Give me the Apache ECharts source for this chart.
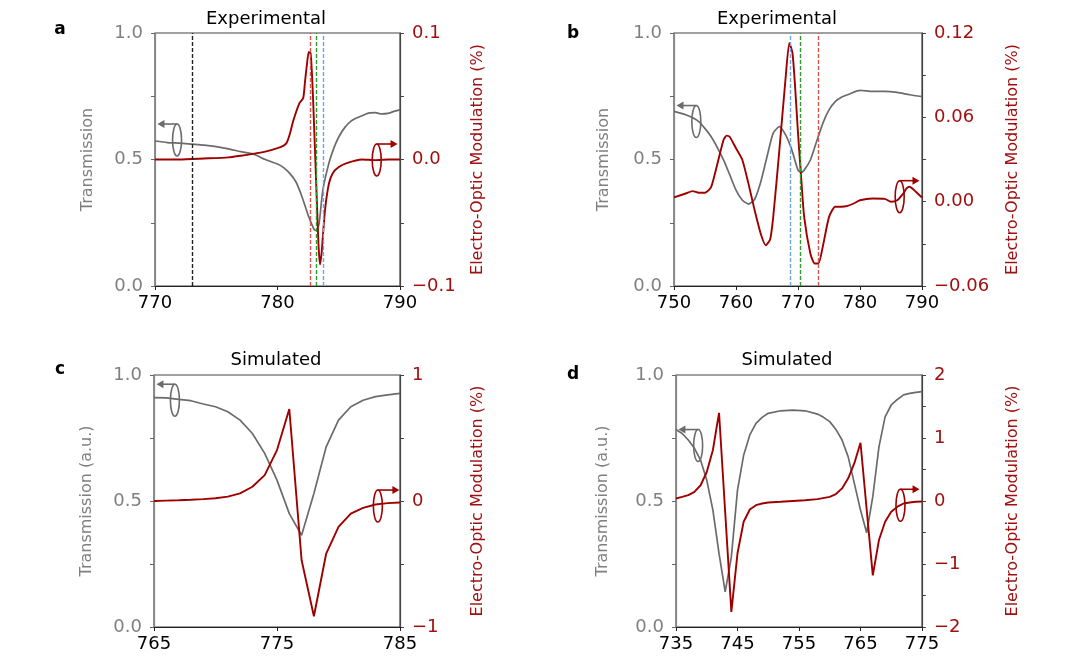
<!DOCTYPE html>
<html>
<head>
<meta charset="utf-8">
<title>Transmission / electro-optic modulation</title>
<script src="https://cdn.jsdelivr.net/npm/echarts@6/dist/echarts.min.js"></script>
<style>
html, body { margin: 0; padding: 0; background: #fff; }
#main { width: 1080px; height: 667px; }
</style>
</head>
<body>
<div id="main"></div>
<script>
// ---- panel a : experimental ----
var aXTicks = [770, 780, 790];
var aTransX = [770, 771, 772, 773, 774, 775, 776, 777, 778, 779, 780, 780.5, 781, 781.5, 782, 782.5, 783, 783.2, 783.4, 783.7, 784.2, 784.6, 785, 785.5, 786, 786.5, 787, 787.5, 788, 788.5, 789, 789.5, 790];
var aTransY = [0.573, 0.567, 0.565, 0.561, 0.557, 0.551, 0.542, 0.531, 0.522, 0.50, 0.482, 0.468, 0.445, 0.412, 0.353, 0.28, 0.223, 0.22, 0.249, 0.379, 0.486, 0.545, 0.589, 0.627, 0.652, 0.665, 0.675, 0.684, 0.685, 0.68, 0.682, 0.69, 0.697];
var aModX = [770, 772, 774, 776, 777, 778, 779, 780, 780.5, 780.75, 781, 781.3, 781.8, 782.1, 782.25, 782.4, 782.55, 782.7, 782.8, 782.9, 783.05, 783.2, 783.35, 783.47, 783.6, 783.7, 783.9, 784.2, 784.5, 785, 785.6, 786.9, 788, 789, 790];
var aModY = [0, 0, 0.0008, 0.0017, 0.003, 0.0044, 0.0062, 0.009, 0.011, 0.0133, 0.02, 0.031, 0.0447, 0.0486, 0.062, 0.075, 0.085, 0.084, 0.07, 0.049, 0.01, -0.03, -0.068, -0.083, -0.074, -0.061, -0.038, -0.019, -0.011, -0.006, -0.003, 0, -0.0005, 0, 0];
var aModTicks = [-0.1, 0, 0.1];
var aMarkX = [773, 782.7, 783.2, 783.7];

// ---- panel b : experimental ----
var bXTicks = [750, 760, 770, 780, 790];
var bTransX = [750, 752, 754, 756, 758, 759, 760, 761, 762, 763, 764, 765, 766, 767, 768, 769, 770, 770.5, 771, 772, 773, 774, 775, 776, 777, 778, 780, 782, 784, 786, 788, 790];
var bTransY = [0.69, 0.676, 0.65, 0.59, 0.498, 0.439, 0.379, 0.34, 0.324, 0.342, 0.412, 0.511, 0.604, 0.63, 0.597, 0.538, 0.458, 0.449, 0.458, 0.498, 0.571, 0.643, 0.696, 0.729, 0.746, 0.756, 0.773, 0.769, 0.769, 0.765, 0.756, 0.749];
var bModX = [750, 752, 753, 754, 755, 756, 757, 758, 758.5, 759, 760, 761, 762, 763, 764, 764.8, 765.5, 766, 767, 768, 768.6, 769.1, 769.5, 770, 770.5, 771, 772, 772.7, 773.3, 774, 775, 776, 777, 778, 779, 780, 782, 784, 785, 786, 787, 787.5, 788, 789, 790];
var bModY = [0.003, 0.006, 0.0075, 0.0063, 0.0063, 0.0106, 0.027, 0.044, 0.047, 0.046, 0.038, 0.030, 0.013, -0.006, -0.023, -0.031, -0.027, -0.011, 0.037, 0.088, 0.113, 0.106, 0.084, 0.0487, 0.0178, -0.011, -0.037, -0.044, -0.044, -0.032, -0.011, -0.0036, -0.0036, -0.003, -0.0013, 0.001, 0.0023, 0.002, -0.0001, 0.001, 0.0059, 0.0094, 0.0106, 0.0071, 0.003];
var bModTicks = [-0.06, 0, 0.06, 0.12];
var bMarkX = [768.7, 770.4, 773.3];

// ---- panel c : simulated ----
var cXTicks = [765, 775, 785];
var cTransX = [765, 766, 767, 768, 769, 770, 771, 772, 773, 774, 775, 776, 777, 778, 779, 780, 781, 782, 783, 784, 785];
var cTransY = [0.91, 0.909, 0.903, 0.898, 0.885, 0.874, 0.854, 0.821, 0.768, 0.689, 0.583, 0.45, 0.364, 0.53, 0.715, 0.821, 0.874, 0.90, 0.914, 0.921, 0.927];
var cModX = cTransX;
var cModY = [0, 0.003, 0.006, 0.01, 0.015, 0.022, 0.035, 0.06, 0.113, 0.205, 0.404, 0.73, -0.47, -0.915, -0.417, -0.205, -0.1, -0.054, -0.028, -0.017, -0.012];
var cModTicks = [-1, 0, 1];

// ---- panel d : simulated ----
var dXTicks = [735, 745, 755, 765, 775];
var dTransX = [735, 736, 737, 738, 739, 740, 741, 742, 743, 744, 745, 746, 747, 748, 749, 750, 752, 754, 756, 758, 759, 760, 761, 762, 763, 764, 765, 766, 767, 768, 769, 770, 771, 772, 773, 774, 775];
var dTransY = [0.784, 0.768, 0.742, 0.709, 0.662, 0.583, 0.464, 0.291, 0.139, 0.278, 0.543, 0.682, 0.762, 0.808, 0.832, 0.848, 0.858, 0.861, 0.858, 0.845, 0.832, 0.815, 0.784, 0.742, 0.675, 0.57, 0.464, 0.374, 0.517, 0.715, 0.834, 0.881, 0.903, 0.921, 0.927, 0.931, 0.934];
var dModX = [735, 736, 737, 738, 739, 740, 741, 742, 743, 744, 745, 746, 747, 748, 749, 750, 752, 754, 756, 758, 760, 761, 762, 763, 764, 765, 766, 767, 768, 769, 770, 771, 772, 773, 774, 775];
var dModY = [0.04, 0.066, 0.093, 0.146, 0.25, 0.46, 0.81, 1.4, -0.18, -1.76, -0.83, -0.33, -0.135, -0.066, -0.04, -0.024, -0.013, 0, 0.013, 0.03, 0.066, 0.11, 0.2, 0.36, 0.6, 0.925, -0.13, -1.18, -0.62, -0.33, -0.17, -0.09, -0.04, -0.024, -0.013, -0.008];
var dModTicks = [-2, -1, 0, 1, 2];

var transTicks = [0, 0.5, 1];

// ring-and-arrow markers: [wavelength, transmission, arrow tip wavelength]
var aRings = [[771.8, 0.577, 770.2], [788.1, 0.498, 789.8]];
var bRings = [[753.6, 0.65, 750.4], [786.4, 0.353, 789.6]];
var cRings = [[766.7, 0.90, 765.2], [783.2, 0.48, 784.95]];
var dRings = [[738.6, 0.72, 735.4], [771.5, 0.483, 774.6]];

var GRAY = '#6b6b6b', GRAY_TXT = '#808080', RED = '#9e0000', RED_TXT = '#a01010';
var FONT = '"DejaVu Sans", sans-serif';

var panels = [
    {grid: {left: 155, top: 33, width: 245, height: 253}, xt: aXTicks, tx: aTransX, ty: aTransY, mx: aModX, my: aModY,
     mMin: -0.1, mMax: 0.1, mStep: 0.05, mt: aModTicks, dec: 1, tName: 'Transmission', tGap: 59, mGap: 70, smooth: 0.2,
     marks: aMarkX, markColors: ['#222222', '#d9534f', '#2e9b2e', '#6aa5e8'], rings: aRings,
     title: 'Experimental', titleX: 266, titleY: 28, letter: 'a', letterX: 60, letterY: 38},
    {grid: {left: 674, top: 33, width: 248, height: 253}, xt: bXTicks, tx: bTransX, ty: bTransY, mx: bModX, my: bModY,
     mMin: -0.06, mMax: 0.12, mStep: 0.03, mt: bModTicks, dec: 2, tName: 'Transmission', tGap: 62, mGap: 83, smooth: 0.2,
     marks: bMarkX, markColors: ['#6aa5e8', '#2e9b2e', '#d9534f'], rings: bRings,
     title: 'Experimental', titleX: 777, titleY: 28, letter: 'b', letterX: 573, letterY: 42},
    {grid: {left: 154, top: 375, width: 246, height: 252}, xt: cXTicks, tx: cTransX, ty: cTransY, mx: cModX, my: cModY,
     mMin: -1, mMax: 1, mStep: 0.5, mt: cModTicks, dec: 0, tName: 'Transmission (a.u.)', tGap: 59, mGap: 70, smooth: false,
     marks: [], markColors: [], rings: cRings,
     title: 'Simulated', titleX: 276, titleY: 369, letter: 'c', letterX: 60, letterY: 378},
    {grid: {left: 676, top: 375, width: 246, height: 252}, xt: dXTicks, tx: dTransX, ty: dTransY, mx: dModX, my: dModY,
     mMin: -2, mMax: 2, mStep: 0.5, mt: dModTicks, dec: 0, tName: 'Transmission (a.u.)', tGap: 65, mGap: 83, smooth: false,
     marks: [], markColors: [], rings: dRings,
     title: 'Simulated', titleX: 787, titleY: 369, letter: 'd', letterX: 573, letterY: 383}
];

function zip(xs, ys) {
    return xs.map(function (x, i) { return [x, ys[i]]; });
}
function fmt(dec) {
    return function (v) { return v.toFixed(dec).replace('-', '\u2212'); };
}

var grids = [], xAxes = [], yAxes = [], series = [];
panels.forEach(function (p, i) {
    grids.push({left: p.grid.left, top: p.grid.top, width: p.grid.width, height: p.grid.height,
        show: true, borderColor: '#444', borderWidth: 1.2, backgroundColor: 'transparent'});
    xAxes.push({
        type: 'value', gridIndex: i, min: p.xt[0], max: p.xt[p.xt.length - 1],
        splitLine: {show: false},
        axisLine: {show: true, lineStyle: {color: '#222', width: 1.2}},
        axisTick: {show: true, length: 4, customValues: p.xt, lineStyle: {color: '#222'}},
        axisLabel: {customValues: p.xt, color: '#000', fontSize: 18, fontFamily: FONT, margin: 8}
    });
    yAxes.push({
        type: 'value', gridIndex: i, position: 'left', min: 0, max: 1, interval: 0.25,
        name: p.tName, nameLocation: 'middle', nameGap: p.tGap,
        nameTextStyle: {color: GRAY_TXT, fontSize: 16, fontFamily: FONT},
        splitLine: {show: false},
        axisLine: {show: true, lineStyle: {color: '#888', width: 1.2}},
        axisTick: {show: true, length: 4, lineStyle: {color: '#666'}},
        axisLabel: {customValues: transTicks, color: GRAY_TXT, fontSize: 18, fontFamily: FONT, margin: 12, formatter: fmt(1)}
    });
    yAxes.push({
        type: 'value', gridIndex: i, position: 'right', min: p.mMin, max: p.mMax, interval: p.mStep,
        name: 'Electro-Optic Modulation (%)', nameLocation: 'middle', nameGap: p.mGap,
        nameTextStyle: {color: RED_TXT, fontSize: 16, fontFamily: FONT},
        splitLine: {show: false},
        axisLine: {show: true, lineStyle: {color: '#444', width: 1.2}},
        axisTick: {show: true, length: 4, lineStyle: {color: '#444'}},
        axisLabel: {customValues: p.mt, color: RED_TXT, fontSize: 18, fontFamily: FONT, margin: 12, formatter: fmt(p.dec)}
    });
    series.push({
        type: 'line', xAxisIndex: i, yAxisIndex: 2 * i, data: zip(p.tx, p.ty),
        showSymbol: false, smooth: p.smooth, silent: true, z: 2,
        lineStyle: {color: GRAY, width: 1.7}
    });
    series.push({
        type: 'line', xAxisIndex: i, yAxisIndex: 2 * i + 1, data: zip(p.mx, p.my),
        showSymbol: false, smooth: p.smooth, silent: true, z: 3,
        lineStyle: {color: RED, width: 1.9},
        markLine: {
            symbol: 'none', silent: true, animation: false, label: {show: false},
            data: p.marks.map(function (m, k) {
                return {xAxis: m, lineStyle: {color: p.markColors[k], type: [4, 2], width: 1.4}};
            })
        }
    });
});

var chart = echarts.init(document.getElementById('main'), null, {renderer: 'canvas'});
chart.setOption({
    backgroundColor: '#fff',
    animation: false,
    grid: grids,
    xAxis: xAxes,
    yAxis: yAxes,
    series: series
});

// titles, panel letters and the ring/arrow markers
var graphics = [];
panels.forEach(function (p, i) {
    graphics.push({type: 'text', x: p.titleX, y: p.titleY, silent: true,
        style: {text: p.title, font: '18px ' + FONT, fill: '#000', align: 'center', verticalAlign: 'bottom'}});
    graphics.push({type: 'text', x: p.letterX, y: p.letterY, silent: true,
        style: {text: p.letter, font: 'bold 17px ' + FONT, fill: '#000', align: 'center', verticalAlign: 'bottom'}});
    p.rings.forEach(function (r, k) {
        var color = k === 0 ? GRAY : RED;
        var c = chart.convertToPixel({xAxisIndex: i, yAxisIndex: 2 * i}, [r[0], r[1]]);
        var tip = chart.convertToPixel({xAxisIndex: i, yAxisIndex: 2 * i}, [r[2], r[1]])[0];
        var rx = 4.5, ry = 16;
        var ay = c[1] - ry;
        var dir = tip > c[0] ? 1 : -1;
        graphics.push({type: 'ellipse', silent: true, z: 10,
            shape: {cx: c[0], cy: c[1], rx: rx, ry: ry},
            style: {fill: 'none', stroke: color, lineWidth: 1.6}});
        graphics.push({type: 'line', silent: true, z: 10,
            shape: {x1: c[0], y1: ay, x2: tip - dir * 5, y2: ay},
            style: {stroke: color, lineWidth: 1.6}});
        graphics.push({type: 'polygon', silent: true, z: 10,
            shape: {points: [[tip, ay], [tip - dir * 7, ay - 4], [tip - dir * 7, ay + 4]]},
            style: {fill: color}});
    });
});
chart.setOption({graphic: graphics});
</script>
</body>
</html>
